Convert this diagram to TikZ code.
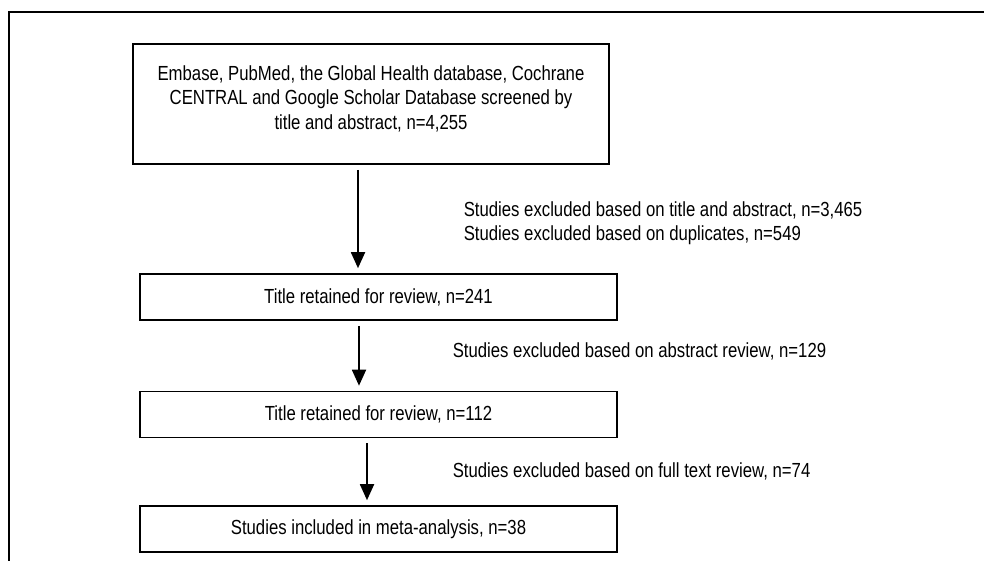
\documentclass[tikz,border=0pt]{standalone}
\usepackage{fontspec}
\setmainfont{Liberation Sans}[FakeStretch=0.82]
\usetikzlibrary{arrows.meta}

\begin{document}
\begin{tikzpicture}[x=1pt,y=-1pt,line width=1.6pt,>={Triangle[length=16pt,width=14pt]},
  box/.style={draw,line width=1.6pt,minimum width=477pt,minimum height=46pt,inner sep=0pt,font=\fontsize{20.4}{24.5}\selectfont},
  lab/.style={anchor=west,align=left,inner sep=0pt,font=\fontsize{20.4}{24}\selectfont},
  arr/.style={->,line width=1.8pt,shorten <=5pt,shorten >=5pt}]
\useasboundingbox (0,0) rectangle (984,561);
% frame
\draw[line width=2.4pt] (9,561) -- (9,12) -- (984,12);
% boxes
\node[box,minimum width=476pt,minimum height=120pt,align=center,text depth=13pt] (src) at (371,104)
  {Embase, PubMed, the Global Health database, Cochrane\\CENTRAL and Google Scholar Database screened by\\title and abstract, n=4,255};
\node[box] (ret1) at (378.5,297) {Title retained for review, n=241};
\node[box] (ret2) at (378.5,414.5) {Title retained for review, n=112};
\node[box] (incl) at (378.5,529) {Studies included in meta-analysis, n=38};
% arrows
\coordinate (a1) at (358,0);
\coordinate (a2) at (359,0);
\coordinate (a3) at (367,0);
\draw[arr] (a1 |- src.south) -- (a1 |- ret1.north);
\draw[arr] (a2 |- ret1.south) -- (a2 |- ret2.north);
\draw[arr] (a3 |- ret2.south) -- (a3 |- incl.north);
% exclusions
\node[lab] (ex1) at (463,223) {Studies excluded based on title and abstract, n=3,465\\Studies excluded based on duplicates, n=549};
\node[lab] (ex2) at (452,351) {Studies excluded based on abstract review, n=129};
\node[lab] (ex3) at (452,471) {Studies excluded based on full text review, n=74};
\end{tikzpicture}
\end{document}
